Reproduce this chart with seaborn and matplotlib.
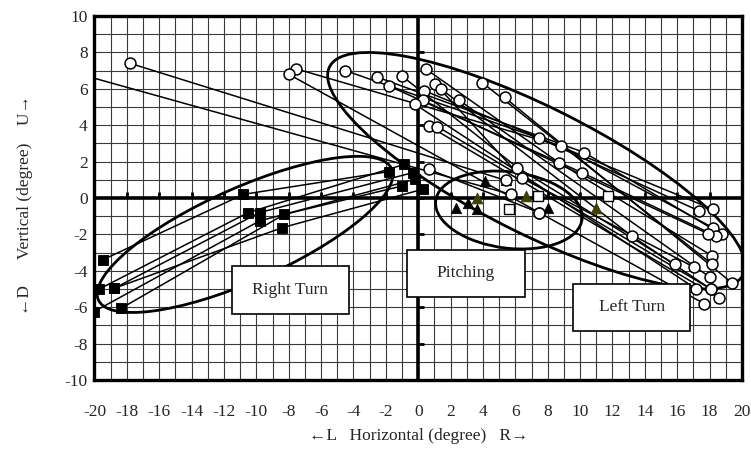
import numpy as np
import pandas as pd
import matplotlib
matplotlib.use('Agg')
import matplotlib.pyplot as plt
from matplotlib.patches import Ellipse, Rectangle
import seaborn as sns

# left turn trajectories (open circles)
left_x = [[-17.8, 5.4], [-21.5, 5.72], [-7.55, 8.8, 18.2], [-8.0, 7.47, 17.65],
          [-4.5, 7.43, 17.35], [-2.55, 10.25, 18.75], [-1.8, 10.1, 18.4],
          [-1.0, 6.13, 15.86], [0.5, 8.7, 18.17], [1.05, 6.4, 17.04],
          [1.4, 13.2, 18.07], [0.37, 18.2], [0.27, 17.9], [2.53, 18.0],
          [3.97, 18.17], [5.33, 19.36], [-0.2, 17.18], [0.64, 18.6],
          [1.19, 18.07], [0.64, 7.47]]
left_y = [[7.4, 0.97], [6.95, 0.2], [7.1, 2.86, -1.63], [6.8, -0.8, -5.8],
          [7.0, 3.3, -0.71], [6.65, 2.5, -2.0], [6.15, 1.4, -2.09],
          [6.7, 1.67, -3.65], [7.07, 1.94, -3.19], [6.28, 1.1, -3.8],
          [6.0, -2.1, -5.0], [5.9, -0.62], [5.37, -1.96], [5.37, -4.34],
          [6.33, -3.65], [5.53, -4.65], [5.15, -5.0], [3.96, -5.5],
          [3.92, -5.0], [1.58, -0.8]]

# right turn trajectories (filled squares)
right_x = [[-19.5, -10.8, -1.83], [-19.7, -10.5, -0.86], [-18.77, -9.8, -0.35],
           [-20.06, -9.8, -0.2], [-18.35, -8.27, -1.0], [-18.77, -8.4, 0.27]]
right_y = [[-3.4, 0.2, 1.45], [-5.0, -0.8, 1.85], [-4.96, -0.8, 1.39],
           [-6.26, -1.26, 1.03], [-6.06, -0.9, 0.66], [-4.96, -1.63, 0.48]]

# pitching points
pitch_black_x = [2.33, 3.1, 3.66, 4.14, 5.41, 8.04]
pitch_black_y = [-0.57, -0.26, -0.62, 0.93, 0.97, -0.57]
pitch_olive_x = [3.66, 6.65, 10.97]
pitch_olive_y = [-0.02, 0.1, -0.57]
pitch_sq_x = [5.62, 7.37, 11.75]
pitch_sq_y = [-0.62, 0.1, 0.1]

x_ticks = list(range(-20, 21, 2))
y_ticks = list(range(-10, 11, 2))


def to_long(xs, ys, name):
    rows = []
    for i, (tx, ty) in enumerate(zip(xs, ys)):
        for x, y in zip(tx, ty):
            rows.append({'x': x, 'y': y, 'traj': f'{name}{i}'})
    return pd.DataFrame(rows)


left_df = to_long(left_x, left_y, 'L')
right_df = to_long(right_x, right_y, 'R')

sns.set_style('white')
plt.rcParams['font.family'] = ['Liberation Serif', 'DejaVu Serif']
plt.rcParams['font.size'] = 12.5
plt.rcParams['axes.unicode_minus'] = False

fig, ax = plt.subplots(figsize=(7.51, 4.50), dpi=100)
fig.subplots_adjust(left=0.1258, right=0.988, bottom=0.1556, top=0.9644)

ax.set_xlim(-20, 20)
ax.set_ylim(-10, 10)
ax.set_xticks(x_ticks)
ax.set_yticks(y_ticks)
ax.set_xticks(range(-20, 21), minor=True)
ax.set_yticks(range(-10, 11), minor=True)
ax.grid(which='both', color='#3a3a3a', lw=0.8, zorder=0)
ax.set_axisbelow(True)
ax.tick_params(which='both', length=0)
ax.tick_params(axis='x', pad=17)
ax.tick_params(axis='y', pad=5)
for sp in ax.spines.values():
    sp.set_linewidth(2.4)
    sp.set_color('black')

ax.axhline(0, color='black', lw=2.6, zorder=2)
ax.axvline(0, color='black', lw=2.6, zorder=2)
ax.plot(x_ticks, [0] * len(x_ticks), ls='none', marker=2, ms=4, mew=2, color='black', zorder=2)
ax.plot([0] * len(y_ticks), y_ticks, ls='none', marker=1, ms=4, mew=2, color='black', zorder=2)

# trajectories
for df in (left_df, right_df):
    sns.lineplot(data=df, x='x', y='y', units='traj', estimator=None, sort=False,
                 color='black', lw=1.1, ax=ax, legend=False, zorder=3)

# group outlines
for (cx, cy), w, h, ang in [((7.3, 1.5), 28.0, 7.1, -23.7),
                             ((-10.7, -2.0), 19.5, 5.2, 21.3),
                             ((5.6, -0.66), 9.1, 4.2, -6)]:
    ax.add_patch(Ellipse((cx, cy), w, h, angle=ang, fill=False, ec='black', lw=2.0, zorder=4))

sns.scatterplot(data=right_df, x='x', y='y', marker='s', s=62, color='black',
                edgecolor='black', ax=ax, zorder=5, legend=False)
sns.scatterplot(x=pitch_black_x, y=pitch_black_y, marker='^', s=55, color='black',
                edgecolor='black', ax=ax, zorder=5, legend=False)
sns.scatterplot(x=pitch_olive_x, y=pitch_olive_y, marker='^', s=60, color='#3f3f00',
                edgecolor='#3f3f00', ax=ax, zorder=5, legend=False)
sns.scatterplot(x=pitch_sq_x, y=pitch_sq_y, marker='s', s=45, color='white',
                edgecolor='black', linewidth=1.0, ax=ax, zorder=5, legend=False)
sns.scatterplot(data=left_df, x='x', y='y', marker='o', s=62, color='white',
                edgecolor='black', linewidth=1.1, ax=ax, zorder=6, legend=False)

# label boxes
for (x0, y0, x1, y1), label in [((-11.5, -6.4, -4.3, -3.74), 'Right Turn'),
                                 ((-0.72, -5.44, 6.6, -2.85), 'Pitching'),
                                 ((9.59, -7.31, 16.79, -4.71), 'Left Turn')]:
    ax.add_patch(Rectangle((x0, y0), x1 - x0, y1 - y0, fc='white', ec='black', lw=1.2, zorder=7))
    ax.text((x0 + x1) / 2, (y0 + y1) / 2, label, ha='center', va='center', zorder=8)

ax.set_xlabel('←L   Horizontal (degree)   R→', va='center')
ax.xaxis.set_label_coords(0.5, -0.154)
ax.set_ylabel('←D      Vertical (degree)    U→', va='center')
ax.yaxis.set_label_coords(-0.108, 0.48)

fig.savefig('out.png', dpi=100)
